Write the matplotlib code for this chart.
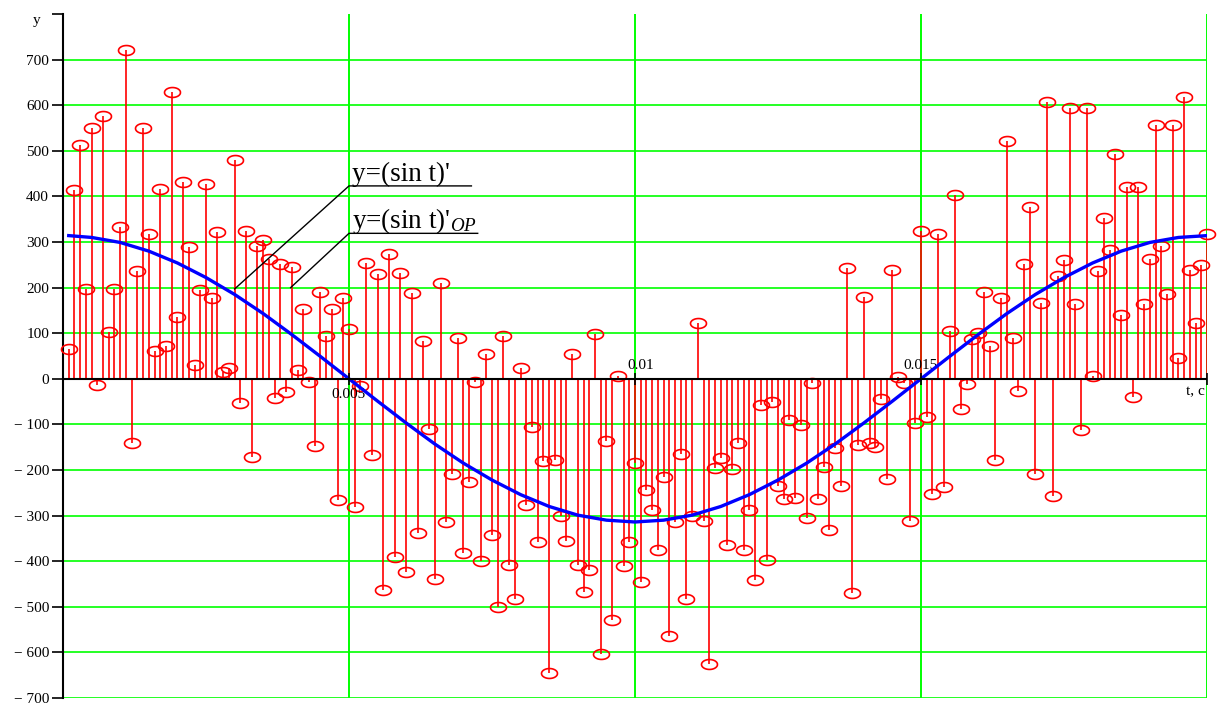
import numpy as np
import matplotlib
matplotlib.use("Agg")
import matplotlib.pyplot as plt
from matplotlib.path import Path

plt.rcParams['font.family'] = ['Liberation Serif', 'DejaVu Serif']
plt.rcParams['mathtext.fontset'] = 'custom'
plt.rcParams['mathtext.rm'] = 'Liberation Serif'
plt.rcParams['mathtext.it'] = 'Liberation Serif:italic'

# noisy derivative samples, dt = 0.0001 s
y_op = [65, 414, 513, 198, 550, -14, 577, 102, 198, 332,
        722, -140, 236, 550, 318, 61, 417, 71, 630, 135,
        432, 288, 30, 195, 428, 178, 322, 14, 24, 480,
        -52, 325, -171, 292, 304, 263, -42, 251, -30, 245,
        20, 153, -7, -148, 191, 94, 153, -266, 178, 110,
        -281, -16, 253, -168, 229, -463, 274, -391, 232, -424,
        188, -338, 82, -110, -438, 211, -315, -209, 89, -381,
        -227, -6, -400, 54, -342, -500, 93, -408, -483, 24,
        -276, -106, -358, -180, -645, -178, -300, -355, 54, -408,
        -468, -420, 98, -604, -137, -530, 6, -410, -358, -184,
        -445, -243, -287, -376, -215, -565, -315, -164, -483, -300,
        122, -312, -626, -195, -174, -365, -198, -140, -376, -288,
        -442, -58, -397, -50, -235, -263, -90, -262, -101, -305,
        -10, -263, -194, -331, -151, -235, 242, -470, -146, 180,
        -140, -150, -45, -220, 238, 3, -10, -311, -98, 325,
        -83, -252, 318, -238, 105, 403, -66, -11, 88, 100,
        191, 71, -178, 177, 522, 89, -26, 252, 376, -209,
        166, 608, -257, 226, 260, 594, 164, -113, 594, 6,
        236, 352, 282, 492, 140, 420, -40, 420, 163, 262,
        556, 292, 187, 556, 46, 618, 238, 122, 249, 317]
t_op = np.arange(1, len(y_op) + 1) * 0.0001

# exact derivative curve, read every 0.0005 s
y_exact = [314, 310, 299, 280, 254, 222, 185, 143, 97, 49,
           0, -49, -97, -143, -185, -222, -254, -280, -299, -310,
           -314, -310, -299, -280, -254, -222, -185, -143, -97, -49,
           0, 49, 97, 143, 185, 222, 254, 280, 299, 310, 314]
t_exact = np.arange(len(y_exact)) * 0.0005
t_exact[0] = 0.0001

yticks = list(range(-700, 801, 100))
xticks = [0.005, 0.01, 0.015, 0.02]

fig = plt.figure(figsize=(12.21, 7.04), dpi=100)
ax = fig.add_axes([63 / 1221, 6 / 704, 1144 / 1221, 684 / 704])
ax.set_xlim(0, 0.02)
ax.set_ylim(-700, 800)

green = '#00ff00'
for v in yticks[:-1]:
    ax.axhline(v, color=green, lw=1.2, zorder=1)
for v in xticks:
    ax.axvline(v, color=green, lw=1.4, zorder=1)

# stems with elliptic open markers
th = np.linspace(0, 2 * np.pi, 60)
ellipse = Path(np.column_stack([np.cos(th), 0.62 * np.sin(th)]))
ax.vlines(t_op, 0, y_op, color='red', lw=1.2, zorder=2)
ax.plot(t_op, y_op, ls='none', marker=ellipse, ms=11.5, mfc='none',
        mec='red', mew=1.2, zorder=3, clip_on=False)

ax.plot(t_exact, y_exact, color='#0000ff', lw=2.4, zorder=4)

# axes lines
for s in ['top', 'bottom', 'right']:
    ax.spines[s].set_visible(False)
ax.spines['left'].set_linewidth(1.5)
ax.axhline(0, color='black', lw=1.5, zorder=5)
ax.set_yticks(yticks)
ax.set_yticklabels([('\u2212 %d' % -v if v < 0 else str(v)) if v < 800 else ''
                    for v in yticks], fontsize=11)
ax.tick_params(axis='y', direction='out', length=8, width=1.2, pad=2)
ax.set_xticks([])
ax.plot(xticks, [0] * len(xticks), ls='none', marker='|', ms=8, mew=1.2,
        color='black', zorder=5, clip_on=False)

ax.text(0.005, -20, '0.005', ha='center', va='top', fontsize=11)
ax.text(0.0101, 15, '0.01', ha='center', va='bottom', fontsize=11)
ax.text(0.015, 15, '0.015', ha='center', va='bottom', fontsize=11)
ax.text(0.0198, -15, 't, c', ha='center', va='top', fontsize=11)
ax.text(-0.0004, 785, 'y', ha='right', va='center', fontsize=11)

# labels with leader lines
ax.plot([0.0030, 0.0050, 0.00714], [197, 423, 423], color='black', lw=1, zorder=6)
ax.plot([0.00398, 0.0050, 0.00725], [200, 319, 319], color='black', lw=1, zorder=6)
ax.text(0.00505, 434, "y=(sin t)'", fontsize=19.5, va='baseline', zorder=6)
ax.text(0.00505, 330, r"y=(sin t)'$_{\mathit{OP}}$", fontsize=19.5, va='baseline', zorder=6)

fig.savefig('out.png', dpi=100)
